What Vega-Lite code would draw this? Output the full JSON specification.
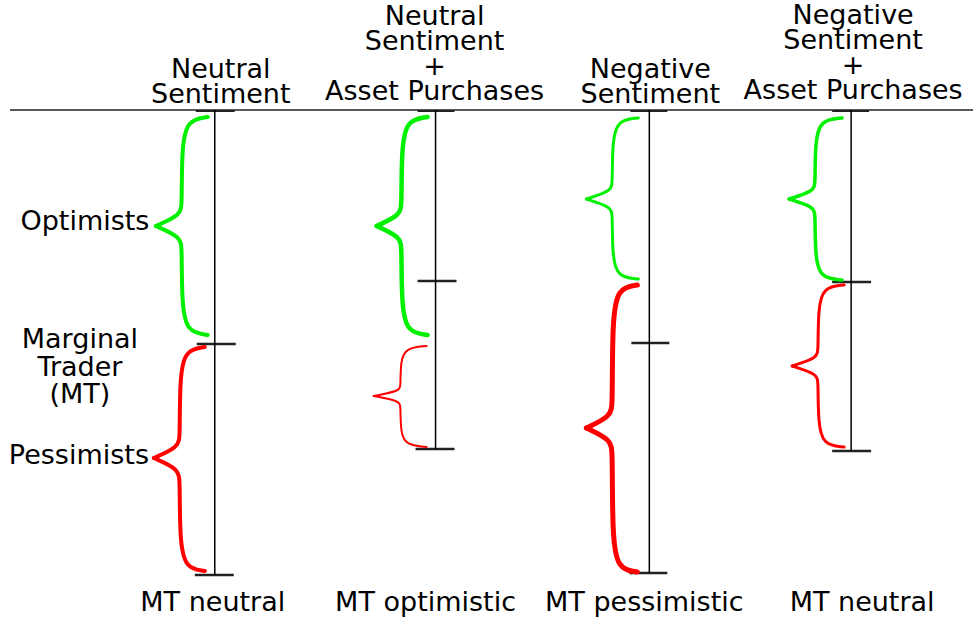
{
  "$schema": "https://vega.github.io/schema/vega-lite/v6.json",
  "width": 974,
  "height": 622,
  "autosize": {"type": "fit", "contains": "padding"},
  "padding": 0,
  "background": "white",
  "config": {"view": {"stroke": null}},
  "datasets": {
    "hlines": [
      {"kind": "axis", "x": 10, "x2": 974, "y": 110},
      {"kind": "top", "x": 196, "x2": 235, "y": 111},
      {"kind": "top", "x": 418, "x2": 455, "y": 111},
      {"kind": "top", "x": 631, "x2": 668, "y": 111},
      {"kind": "top", "x": 833, "x2": 870, "y": 111},
      {"kind": "tick", "x": 197, "x2": 236, "y": 344},
      {"kind": "tick", "x": 418, "x2": 457, "y": 281},
      {"kind": "tick", "x": 632, "x2": 670, "y": 343},
      {"kind": "tick", "x": 833, "x2": 872, "y": 282},
      {"kind": "tick", "x": 195, "x2": 234, "y": 575},
      {"kind": "tick", "x": 416, "x2": 455, "y": 449},
      {"kind": "tick", "x": 630, "x2": 668, "y": 573},
      {"kind": "tick", "x": 833, "x2": 872, "y": 451}
    ],
    "vlines": [
      {"x": 215, "y": 110, "y2": 575},
      {"x": 436, "y": 110, "y2": 449},
      {"x": 650, "y": 110, "y2": 573},
      {"x": 852, "y": 110, "y2": 451}
    ],
    "braces": [
      {"b": "g1", "p": "a", "g": "Optimists", "i": 0, "x": 208, "y": 117},
      {"b": "g1", "p": "a", "g": "Optimists", "i": 1, "x": 187, "y": 120},
      {"b": "g1", "p": "a", "g": "Optimists", "i": 2, "x": 182, "y": 148},
      {"b": "g1", "p": "a", "g": "Optimists", "i": 3, "x": 182, "y": 204},
      {"b": "g1", "p": "a", "g": "Optimists", "i": 4, "x": 181, "y": 215},
      {"b": "g1", "p": "a", "g": "Optimists", "i": 5, "x": 156, "y": 226},
      {"b": "g1", "p": "b", "g": "Optimists", "i": 0, "x": 208, "y": 335},
      {"b": "g1", "p": "b", "g": "Optimists", "i": 1, "x": 187, "y": 332},
      {"b": "g1", "p": "b", "g": "Optimists", "i": 2, "x": 182, "y": 304},
      {"b": "g1", "p": "b", "g": "Optimists", "i": 3, "x": 182, "y": 248},
      {"b": "g1", "p": "b", "g": "Optimists", "i": 4, "x": 181, "y": 237},
      {"b": "g1", "p": "b", "g": "Optimists", "i": 5, "x": 156, "y": 226},
      {"b": "r1", "p": "a", "g": "Pessimists", "i": 0, "x": 205, "y": 347},
      {"b": "r1", "p": "a", "g": "Pessimists", "i": 1, "x": 185, "y": 350},
      {"b": "r1", "p": "a", "g": "Pessimists", "i": 2, "x": 180, "y": 378},
      {"b": "r1", "p": "a", "g": "Pessimists", "i": 3, "x": 180, "y": 436},
      {"b": "r1", "p": "a", "g": "Pessimists", "i": 4, "x": 179, "y": 447},
      {"b": "r1", "p": "a", "g": "Pessimists", "i": 5, "x": 154, "y": 458},
      {"b": "r1", "p": "b", "g": "Pessimists", "i": 0, "x": 205, "y": 571},
      {"b": "r1", "p": "b", "g": "Pessimists", "i": 1, "x": 185, "y": 568},
      {"b": "r1", "p": "b", "g": "Pessimists", "i": 2, "x": 180, "y": 539},
      {"b": "r1", "p": "b", "g": "Pessimists", "i": 3, "x": 180, "y": 481},
      {"b": "r1", "p": "b", "g": "Pessimists", "i": 4, "x": 179, "y": 469},
      {"b": "r1", "p": "b", "g": "Pessimists", "i": 5, "x": 154, "y": 458},
      {"b": "g2", "p": "a", "g": "Optimists", "i": 0, "x": 428, "y": 117},
      {"b": "g2", "p": "a", "g": "Optimists", "i": 1, "x": 407, "y": 120},
      {"b": "g2", "p": "a", "g": "Optimists", "i": 2, "x": 402, "y": 148},
      {"b": "g2", "p": "a", "g": "Optimists", "i": 3, "x": 402, "y": 204},
      {"b": "g2", "p": "a", "g": "Optimists", "i": 4, "x": 401, "y": 215},
      {"b": "g2", "p": "a", "g": "Optimists", "i": 5, "x": 377, "y": 226},
      {"b": "g2", "p": "b", "g": "Optimists", "i": 0, "x": 428, "y": 335},
      {"b": "g2", "p": "b", "g": "Optimists", "i": 1, "x": 407, "y": 332},
      {"b": "g2", "p": "b", "g": "Optimists", "i": 2, "x": 402, "y": 304},
      {"b": "g2", "p": "b", "g": "Optimists", "i": 3, "x": 402, "y": 248},
      {"b": "g2", "p": "b", "g": "Optimists", "i": 4, "x": 401, "y": 237},
      {"b": "g2", "p": "b", "g": "Optimists", "i": 5, "x": 377, "y": 226},
      {"b": "r2", "p": "a", "g": "Pessimists", "i": 0, "x": 427, "y": 346},
      {"b": "r2", "p": "a", "g": "Pessimists", "i": 1, "x": 406, "y": 348},
      {"b": "r2", "p": "a", "g": "Pessimists", "i": 2, "x": 401, "y": 361},
      {"b": "r2", "p": "a", "g": "Pessimists", "i": 3, "x": 401, "y": 386},
      {"b": "r2", "p": "a", "g": "Pessimists", "i": 4, "x": 400, "y": 391},
      {"b": "r2", "p": "a", "g": "Pessimists", "i": 5, "x": 374, "y": 396},
      {"b": "r2", "p": "b", "g": "Pessimists", "i": 0, "x": 427, "y": 447},
      {"b": "r2", "p": "b", "g": "Pessimists", "i": 1, "x": 406, "y": 445},
      {"b": "r2", "p": "b", "g": "Pessimists", "i": 2, "x": 401, "y": 432},
      {"b": "r2", "p": "b", "g": "Pessimists", "i": 3, "x": 401, "y": 406},
      {"b": "r2", "p": "b", "g": "Pessimists", "i": 4, "x": 400, "y": 401},
      {"b": "r2", "p": "b", "g": "Pessimists", "i": 5, "x": 374, "y": 396},
      {"b": "g3", "p": "a", "g": "Optimists", "i": 0, "x": 639, "y": 118},
      {"b": "g3", "p": "a", "g": "Optimists", "i": 1, "x": 618, "y": 120},
      {"b": "g3", "p": "a", "g": "Optimists", "i": 2, "x": 613, "y": 142},
      {"b": "g3", "p": "a", "g": "Optimists", "i": 3, "x": 613, "y": 183},
      {"b": "g3", "p": "a", "g": "Optimists", "i": 4, "x": 612, "y": 191},
      {"b": "g3", "p": "a", "g": "Optimists", "i": 5, "x": 587, "y": 199},
      {"b": "g3", "p": "b", "g": "Optimists", "i": 0, "x": 639, "y": 279},
      {"b": "g3", "p": "b", "g": "Optimists", "i": 1, "x": 618, "y": 277},
      {"b": "g3", "p": "b", "g": "Optimists", "i": 2, "x": 613, "y": 256},
      {"b": "g3", "p": "b", "g": "Optimists", "i": 3, "x": 613, "y": 215},
      {"b": "g3", "p": "b", "g": "Optimists", "i": 4, "x": 612, "y": 207},
      {"b": "g3", "p": "b", "g": "Optimists", "i": 5, "x": 587, "y": 199},
      {"b": "r3", "p": "a", "g": "Pessimists", "i": 0, "x": 638, "y": 285},
      {"b": "r3", "p": "a", "g": "Pessimists", "i": 1, "x": 618, "y": 288},
      {"b": "r3", "p": "a", "g": "Pessimists", "i": 2, "x": 613, "y": 321},
      {"b": "r3", "p": "a", "g": "Pessimists", "i": 3, "x": 613, "y": 404},
      {"b": "r3", "p": "a", "g": "Pessimists", "i": 4, "x": 612, "y": 416},
      {"b": "r3", "p": "a", "g": "Pessimists", "i": 5, "x": 587, "y": 428},
      {"b": "r3", "p": "b", "g": "Pessimists", "i": 0, "x": 638, "y": 572},
      {"b": "r3", "p": "b", "g": "Pessimists", "i": 1, "x": 618, "y": 569},
      {"b": "r3", "p": "b", "g": "Pessimists", "i": 2, "x": 613, "y": 536},
      {"b": "r3", "p": "b", "g": "Pessimists", "i": 3, "x": 613, "y": 452},
      {"b": "r3", "p": "b", "g": "Pessimists", "i": 4, "x": 612, "y": 440},
      {"b": "r3", "p": "b", "g": "Pessimists", "i": 5, "x": 587, "y": 428},
      {"b": "g4", "p": "a", "g": "Optimists", "i": 0, "x": 843, "y": 118},
      {"b": "g4", "p": "a", "g": "Optimists", "i": 1, "x": 821, "y": 120},
      {"b": "g4", "p": "a", "g": "Optimists", "i": 2, "x": 816, "y": 142},
      {"b": "g4", "p": "a", "g": "Optimists", "i": 3, "x": 816, "y": 183},
      {"b": "g4", "p": "a", "g": "Optimists", "i": 4, "x": 815, "y": 191},
      {"b": "g4", "p": "a", "g": "Optimists", "i": 5, "x": 790, "y": 199},
      {"b": "g4", "p": "b", "g": "Optimists", "i": 0, "x": 843, "y": 280},
      {"b": "g4", "p": "b", "g": "Optimists", "i": 1, "x": 821, "y": 278},
      {"b": "g4", "p": "b", "g": "Optimists", "i": 2, "x": 816, "y": 256},
      {"b": "g4", "p": "b", "g": "Optimists", "i": 3, "x": 816, "y": 215},
      {"b": "g4", "p": "b", "g": "Optimists", "i": 4, "x": 815, "y": 207},
      {"b": "g4", "p": "b", "g": "Optimists", "i": 5, "x": 790, "y": 199},
      {"b": "r4", "p": "a", "g": "Pessimists", "i": 0, "x": 845, "y": 285},
      {"b": "r4", "p": "a", "g": "Pessimists", "i": 1, "x": 824, "y": 287},
      {"b": "r4", "p": "a", "g": "Pessimists", "i": 2, "x": 819, "y": 309},
      {"b": "r4", "p": "a", "g": "Pessimists", "i": 3, "x": 819, "y": 350},
      {"b": "r4", "p": "a", "g": "Pessimists", "i": 4, "x": 818, "y": 358},
      {"b": "r4", "p": "a", "g": "Pessimists", "i": 5, "x": 793, "y": 366},
      {"b": "r4", "p": "b", "g": "Pessimists", "i": 0, "x": 845, "y": 447},
      {"b": "r4", "p": "b", "g": "Pessimists", "i": 1, "x": 824, "y": 445},
      {"b": "r4", "p": "b", "g": "Pessimists", "i": 2, "x": 819, "y": 423},
      {"b": "r4", "p": "b", "g": "Pessimists", "i": 3, "x": 819, "y": 382},
      {"b": "r4", "p": "b", "g": "Pessimists", "i": 4, "x": 818, "y": 374},
      {"b": "r4", "p": "b", "g": "Pessimists", "i": 5, "x": 793, "y": 366}
    ],
    "headers": [
      {"label": ["Neutral", "Sentiment"], "x": 221, "y": 78},
      {"label": ["Neutral", "Sentiment", "+", "Asset Purchases"], "x": 435, "y": 25},
      {"label": ["Negative", "Sentiment"], "x": 651, "y": 78},
      {"label": ["Negative", "Sentiment", "+", "Asset Purchases"], "x": 854, "y": 24},
      {"label": ["MT neutral"], "x": 213, "y": 611},
      {"label": ["MT optimistic"], "x": 426, "y": 611},
      {"label": ["MT pessimistic"], "x": 645, "y": 611},
      {"label": ["MT neutral"], "x": 863, "y": 611}
    ],
    "side": [
      {"label": ["Optimists"], "x": 85, "y": 230},
      {"label": ["Marginal", "Trader", "(MT)"], "x": 80, "y": 348},
      {"label": ["Pessimists"], "x": 79, "y": 464}
    ]
  },
  "encoding": {
    "x": {"field": "x", "type": "quantitative", "scale": {"domain": [0, 974], "nice": false, "zero": false}, "axis": null},
    "y": {"field": "y", "type": "quantitative", "scale": {"domain": [0, 622], "nice": false, "zero": false, "reverse": true}, "axis": null}
  },
  "layer": [
    {
      "data": {"name": "hlines"},
      "mark": {"type": "rule", "color": "#222"},
      "encoding": {
        "x2": {"field": "x2"},
        "strokeWidth": {"field": "kind", "type": "nominal", "scale": {"domain": ["axis", "top", "tick"], "range": [1.5, 2.5, 1.3]}, "legend": null}
      }
    },
    {
      "data": {"name": "vlines"},
      "mark": {"type": "rule", "color": "#000", "strokeWidth": 1.5},
      "encoding": {"y2": {"field": "y2"}}
    },
    {
      "data": {"name": "braces"},
      "mark": {"type": "line", "interpolate": "basis", "strokeCap": "round", "strokeJoin": "round"},
      "encoding": {
        "detail": [{"field": "b"}, {"field": "p"}],
        "order": {"field": "i", "type": "quantitative"},
        "color": {"field": "g", "type": "nominal", "scale": {"domain": ["Optimists", "Pessimists"], "range": ["#00f000", "#ff0000"]}, "legend": null},
        "size": {"field": "b", "type": "nominal", "scale": {"type": "ordinal", "domain": ["g1", "r1", "g2", "r2", "g3", "r3", "g4", "r4"], "range": [4, 4, 4.5, 2, 3, 5, 3.5, 3]}, "legend": null}
      }
    },
    {
      "data": {"name": "headers"},
      "mark": {"type": "text", "font": "DejaVu Sans", "fontSize": 27, "align": "center", "baseline": "alphabetic", "lineHeight": 25, "color": "#000"},
      "encoding": {"text": {"field": "label", "type": "nominal"}}
    },
    {
      "data": {"name": "side"},
      "mark": {"type": "text", "font": "DejaVu Sans", "fontSize": 27, "align": "center", "baseline": "alphabetic", "lineHeight": 27.5, "color": "#000"},
      "encoding": {"text": {"field": "label", "type": "nominal"}}
    }
  ]
}
